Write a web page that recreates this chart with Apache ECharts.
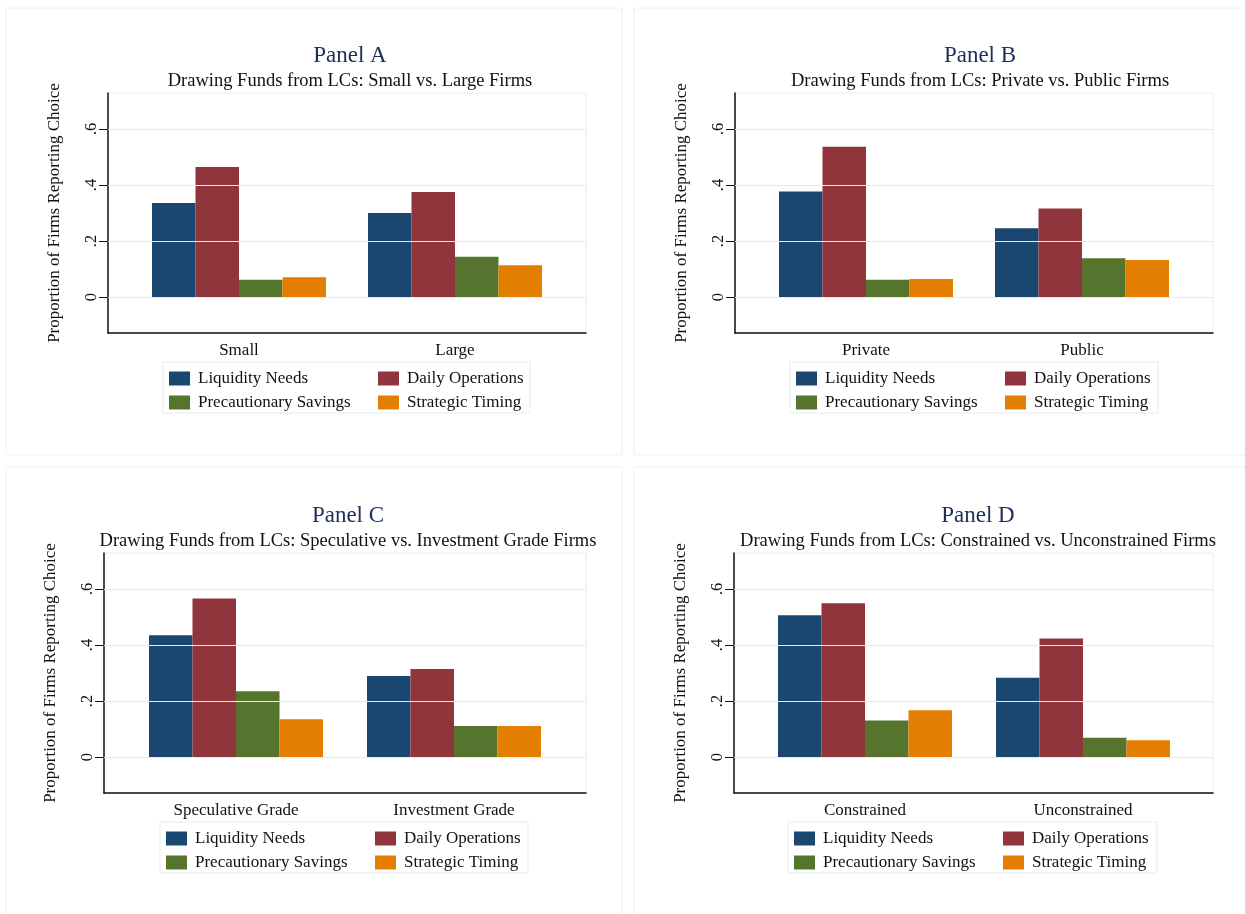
<!DOCTYPE html>
<html>
<head>
<meta charset="utf-8">
<script src="https://cdn.jsdelivr.net/npm/echarts@6/dist/echarts.min.js"></script>
<style>
html,body{margin:0;padding:0;background:#fff;}
#chart{width:1245px;height:914px;}
</style>
</head>
<body>
<div id="chart"></div>
<script>
// ---- data ----
const seriesNames = ['Liquidity Needs', 'Daily Operations', 'Precautionary Savings', 'Strategic Timing'];
const seriesColors = ['#1a476f', '#90353b', '#55752f', '#e37e00'];

const panelTitles = ['Panel A', 'Panel B', 'Panel C', 'Panel D'];
const panelSubtitles = [
  'Drawing Funds from LCs: Small vs. Large Firms',
  'Drawing Funds from LCs: Private vs. Public Firms',
  'Drawing Funds from LCs: Speculative vs. Investment Grade Firms',
  'Drawing Funds from LCs: Constrained vs. Unconstrained Firms'
];

const categoriesA = ['Small', 'Large'];
const liquidityA = [0.336, 0.300];
const dailyA = [0.464, 0.375];
const precautionA = [0.062, 0.144];
const strategicA = [0.071, 0.114];

const categoriesB = ['Private', 'Public'];
const liquidityB = [0.377, 0.246];
const dailyB = [0.536, 0.316];
const precautionB = [0.062, 0.139];
const strategicB = [0.065, 0.132];

const categoriesC = ['Speculative Grade', 'Investment Grade'];
const liquidityC = [0.435, 0.289];
const dailyC = [0.566, 0.314];
const precautionC = [0.235, 0.111];
const strategicC = [0.135, 0.111];

const categoriesD = ['Constrained', 'Unconstrained'];
const liquidityD = [0.506, 0.283];
const dailyD = [0.549, 0.423];
const precautionD = [0.131, 0.069];
const strategicD = [0.167, 0.060];

const yTicks = [0, 0.2, 0.4, 0.6];
const yTickLabels = ['0', '.2', '.4', '.6'];
const yAxisTitle = 'Proportion of Firms Reporting Choice';
const yMin = -0.128;
const yMax = 0.728;

// ---- layout ----
const FONT = '"Liberation Serif", "DejaVu Serif", serif';
const panels = [
  {cats: categoriesA, vals: [liquidityA, dailyA, precautionA, strategicA],
   plotL: 108, plotR: 586, top: 93, bottom: 333, innerL: 131, innerW: 432,
   legL: 163, legR: 530, legT: 362, titleX: 345, titleY: 39, frame: [6, 8, 616, 447]},
  {cats: categoriesB, vals: [liquidityB, dailyB, precautionB, strategicB],
   plotL: 735, plotR: 1213, top: 93, bottom: 333, innerL: 758, innerW: 432,
   legL: 790, legR: 1158, legT: 362, titleX: 975, titleY: 39, frame: [634, 8, 620, 447]},
  {cats: categoriesC, vals: [liquidityC, dailyC, precautionC, strategicC],
   plotL: 104, plotR: 586, top: 553, bottom: 793, innerL: 127, innerW: 436,
   legL: 160, legR: 528, legT: 822, titleX: 343, titleY: 499, frame: [6, 467, 616, 460]},
  {cats: categoriesD, vals: [liquidityD, dailyD, precautionD, strategicD],
   plotL: 734, plotR: 1213, top: 553, bottom: 793, innerL: 756, innerW: 436,
   legL: 788, legR: 1157, legT: 822, titleX: 973, titleY: 499, frame: [634, 467, 620, 460]}
];

const grid = [], xAxis = [], yAxis = [], series = [], title = [], legend = [], graphic = [];

panels.forEach((p, i) => {
  const H = p.bottom - p.top;
  grid.push({left: p.plotL, top: p.top, width: p.plotR - p.plotL, height: H,
    show: true, borderColor: '#e6eef0', borderWidth: 1, backgroundColor: '#fff'});
  grid.push({left: p.innerL, top: p.top, width: p.innerW, height: H});
  const og = 2 * i, ig = 2 * i + 1;

  xAxis.push({gridIndex: og, type: 'value', min: 0, max: 1,
    axisLine: {show: true, onZero: false, lineStyle: {color: '#111', width: 1.5}},
    axisTick: {show: false}, axisLabel: {show: false}, splitLine: {show: false}});
  xAxis.push({gridIndex: ig, type: 'category', data: p.cats,
    axisLine: {show: false}, axisTick: {show: false}, splitLine: {show: false},
    axisLabel: {color: '#111', fontSize: 17, fontFamily: FONT, margin: 9}});

  yAxis.push({gridIndex: og, type: 'value', min: yMin, max: yMax,
    axisLine: {show: true, onZero: false, lineStyle: {color: '#111', width: 1.5}},
    axisTick: {show: true, length: 9, customValues: yTicks, lineStyle: {color: '#111'}},
    axisLabel: {show: true, customValues: yTicks, rotate: 90, color: '#111',
      fontSize: 16.5, fontFamily: FONT, margin: 8,
      formatter: v => { const k = yTicks.findIndex(t => Math.abs(t - v) < 1e-9); return k >= 0 ? yTickLabels[k] : ''; }},
    splitLine: {show: false},
    name: yAxisTitle, nameLocation: 'middle', nameRotate: 90, nameGap: 45,
    nameTextStyle: {color: '#111', fontSize: 17, fontFamily: FONT}});
  yAxis.push({gridIndex: ig, type: 'value', min: yMin, max: yMax, show: false});

  series.push({type: 'line', xAxisIndex: og, yAxisIndex: og, data: [], z: 1, silent: true,
    markLine: {silent: true, symbol: 'none', label: {show: false},
      lineStyle: {color: '#e4ecee', width: 1.2, type: 'solid'},
      data: yTicks.map(v => ({yAxis: v}))}});

  seriesNames.forEach((name, s) => {
    series.push({type: 'bar', name: name, xAxisIndex: ig, yAxisIndex: ig,
      data: p.vals[s], barWidth: 43.5, barGap: '0%', z: 3,
      itemStyle: {color: seriesColors[s]}});
  });

  title.push({text: panelTitles[i], left: p.titleX, top: p.titleY, textAlign: 'center',
    textStyle: {color: '#1f2d5c', fontSize: 23, fontWeight: 'normal', fontFamily: FONT}});
  title.push({text: panelSubtitles[i], left: p.titleX, top: p.titleY + 28, textAlign: 'center',
    textStyle: {color: '#111', fontSize: 18.5, fontWeight: 'normal', fontFamily: FONT}});

  const legCommon = {orient: 'vertical', top: p.legT + 8, padding: 0, itemWidth: 21, itemHeight: 14,
    itemGap: 7, icon: 'rect', selectedMode: false,
    textStyle: {color: '#111', fontSize: 17, fontFamily: FONT, padding: [0, 0, 0, 3]}};
  legend.push(Object.assign({}, legCommon, {left: p.legL + 6, data: [seriesNames[0], seriesNames[2]]}));
  legend.push(Object.assign({}, legCommon, {left: p.legL + 215, data: [seriesNames[1], seriesNames[3]]}));

  graphic.push({type: 'rect', silent: true, z: -1,
    shape: {x: p.legL, y: p.legT, width: p.legR - p.legL, height: 51},
    style: {fill: '#fff', stroke: '#e4ecee', lineWidth: 1}});
  graphic.push({type: 'rect', silent: true, z: -2,
    shape: {x: p.frame[0], y: p.frame[1], width: p.frame[2], height: p.frame[3]},
    style: {fill: 'none', stroke: '#f0f0f0', lineWidth: 1}});
});

const chart = echarts.init(document.getElementById('chart'), null, {renderer: 'canvas'});
chart.setOption({
  backgroundColor: '#fff',
  animation: false,
  title, legend, grid, xAxis, yAxis, series, graphic
});
</script>
</body>
</html>
